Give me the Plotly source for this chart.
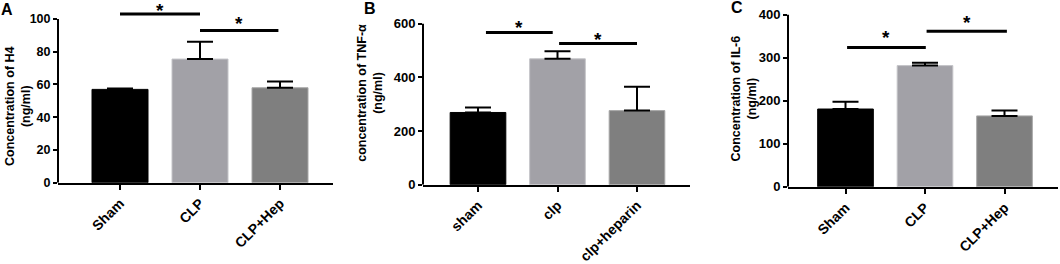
import plotly.graph_objects as go

W, H = 1060, 264

# ---------------- data ----------------
cats_A = ["Sham", "CLP", "CLP+Hep"]
vals_A = [57, 75.5, 58]
err_A = [0.6, 10.5, 3.8]

cats_B = ["sham", "clp", "clp+heparin"]
vals_B = [269, 469, 276]
err_B = [19, 28, 89]

cats_C = ["Sham", "CLP", "CLP+Hep"]
vals_C = [181, 282, 165]
err_C = [17, 6.5, 12.5]

ticks_A = [0, 20, 40, 60, 80, 100]
ticks_B = [0, 200, 400, 600]
ticks_C = [0, 100, 200, 300, 400]

titles = ["Concentration of H4", "concentration of TNF-α", "Concentration of IL-6"]
letters = ["A", "B", "C"]

# significance brackets (start category, end category, height)
sig_x0_A = [0.0, 1.0]
sig_x1_A = [1.0, 1.98]
sig_y_A = [103, 93]
sig_x0_B = [0.1, 1.02]
sig_x1_B = [0.94, 2.0]
sig_y_B = [567, 526]
sig_x0_C = [0.02, 1.02]
sig_x1_C = [1.01, 2.03]
sig_y_C = [324, 362]

colors = ["#000000", "#a2a1a7", "#7f7f7f"]
FONT = "Liberation Sans, Arial, sans-serif"

# ---------------- panel geometry (pixels) ----------------
geom = [
    dict(xl=58, xr=333, c0=120, sp=80, y0=193, ymax=100, ytop=20,
         tx=18, ty=113, lx=7, ly=10, tf=12.5, star_off=[7.5, 11]),
    dict(xl=423, xr=690, c0=478, sp=79.5, y0=195, ymax=600, ytop=25,
         tx=370, ty=98, lx=370, ly=9, tf=13, star_off=[9.5, 8.5]),
    dict(xl=788, xr=1058, c0=845.5, sp=79.5, y0=197.3, ymax=400, ytop=15.7,
         tx=744, ty=104, lx=737, ly=8, tf=13, star_off=[14, 13]),
]

panels = [
    (cats_A, vals_A, err_A, ticks_A, sig_x0_A, sig_x1_A, sig_y_A),
    (cats_B, vals_B, err_B, ticks_B, sig_x0_B, sig_x1_B, sig_y_B),
    (cats_C, vals_C, err_C, ticks_C, sig_x0_C, sig_x1_C, sig_y_C),
]

fig = go.Figure()
layout = dict(
    width=W, height=H, margin=dict(l=0, r=0, t=0, b=0),
    paper_bgcolor="white", plot_bgcolor="white", showlegend=False,
    font=dict(family=FONT, color="black", size=13, weight="bold"),
)
annotations = []
shapes = []

for i, (g, (cats, vals, errs, ticks, sx0, sx1, sy)) in enumerate(zip(geom, panels)):
    n = "" if i == 0 else str(i + 1)
    xa, ya = "x" + n, "y" + n
    ppu = (g["y0"] - g["ytop"]) / g["ymax"]
    top_px = 2
    yrange_top = (g["y0"] - top_px) / ppu
    xr0 = (g["xl"] - g["c0"]) / g["sp"]
    xr1 = (g["xr"] - g["c0"]) / g["sp"]
    xs = list(range(len(cats)))

    fig.add_trace(go.Bar(
        x=xs, y=vals, xaxis=xa, yaxis=ya, width=0.7,
        marker=dict(color=colors, line=dict(color=["#000000", "#c4c4c8", "#a8a8a8"], width=1)),
        error_y=dict(type="data", array=errs, arrayminus=[0] * len(errs), symmetric=False,
                     color="black", thickness=2, width=13),
        hoverinfo="skip",
    ))
    for j, (a, b, h) in enumerate(zip(sx0, sx1, sy)):
        fig.add_trace(go.Scatter(
            x=[a, b], y=[h, h], xaxis=xa, yaxis=ya, mode="lines",
            line=dict(color="black", width=3), hoverinfo="skip", cliponaxis=False,
        ))
        annotations.append(dict(
            x=(a + b) / 2, y=h, xref=xa, yref=ya, text="*", showarrow=False,
            yanchor="middle", yshift=g["star_off"][j] - 4,
            font=dict(size=19, family=FONT, weight="bold", color="black"),
        ))

    layout["xaxis" + n] = dict(
        domain=[g["xl"] / W, g["xr"] / W], range=[xr0, xr1], anchor=ya,
        tickvals=xs, ticktext=cats, tickangle=-45,
        showline=True, linecolor="black", linewidth=2,
        ticks="outside", ticklen=5, tickwidth=2, tickcolor="black",
        showgrid=False, zeroline=False,
        tickfont=dict(size=14, family=FONT, weight="bold", color="black"),
    )
    layout["yaxis" + n] = dict(
        domain=[1 - g["y0"] / H, 1 - top_px / H], range=[0, yrange_top], anchor=xa,
        tickvals=ticks, showline=False,
        ticks="outside", ticklen=4, tickwidth=2, tickcolor="black",
        showgrid=False, zeroline=False,
        tickfont=dict(size=g["tf"], family=FONT, weight="bold", color="black"),
    )
    shapes.append(dict(
        type="line", xref=xa + " domain", yref=ya, x0=0, x1=0, y0=0, y1=g["ymax"],
        line=dict(color="black", width=2),
    ))
    annotations.append(dict(
        x=g["tx"] / W, y=1 - g["ty"] / H, xref="paper", yref="paper",
        text=titles[i] + "<br>(ng/ml)", textangle=-90, showarrow=False,
        xanchor="center", yanchor="middle",
        font=dict(size=12.5, family=FONT, weight="bold", color="black"),
    ))
    annotations.append(dict(
        x=g["lx"] / W, y=1 - g["ly"] / H, xref="paper", yref="paper",
        text=letters[i], showarrow=False, xanchor="center", yanchor="middle",
        font=dict(size=16, family=FONT, weight="bold", color="black"),
    ))

layout["annotations"] = annotations
layout["shapes"] = shapes
fig.update_layout(**layout)
fig.write_html("out.html", config={"displayModeBar": False},
               post_script="document.body.style.margin='0';")
